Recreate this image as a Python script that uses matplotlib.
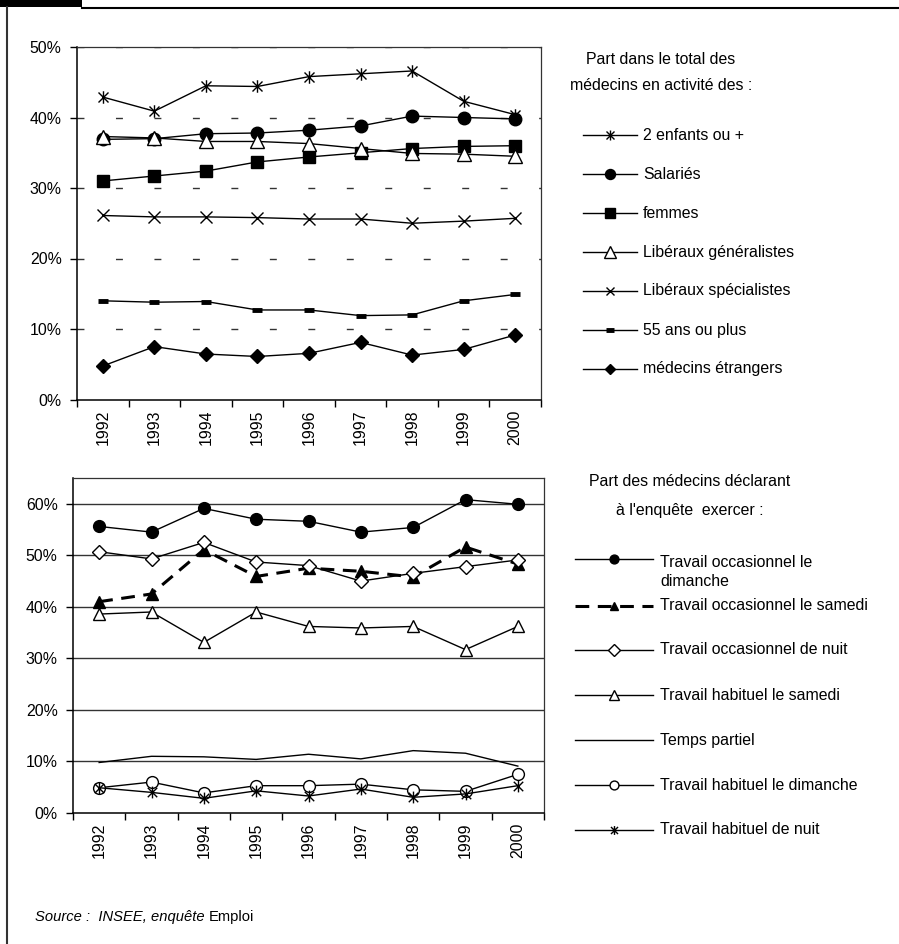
import matplotlib
matplotlib.use('Agg')
import matplotlib.pyplot as plt
import numpy as np
from matplotlib import font_manager
from matplotlib.lines import Line2D
from matplotlib.patches import Rectangle
from matplotlib.path import Path

# values (percent)
years = ['1992', '1993', '1994', '1995', '1996', '1997', '1998', '1999', '2000']

enfants_2 = [42.9, 40.9, 44.5, 44.4, 45.8, 46.2, 46.6, 42.3, 40.4]
salaries = [36.9, 37.0, 37.7, 37.8, 38.2, 38.8, 40.2, 40.0, 39.8]
femmes = [31.0, 31.7, 32.4, 33.7, 34.4, 35.0, 35.6, 35.9, 36.0]
lib_gen = [37.3, 37.1, 36.6, 36.6, 36.3, 35.6, 34.9, 34.8, 34.5]
lib_spe = [26.1, 25.9, 25.9, 25.8, 25.6, 25.6, 25.0, 25.3, 25.7]
ans_55 = [14.0, 13.8, 13.9, 12.7, 12.7, 11.9, 12.0, 14.0, 14.9]
etrangers = [4.75, 7.5, 6.45, 6.1, 6.55, 8.1, 6.3, 7.1, 9.15]

occ_dim = [55.6, 54.5, 59.1, 57.0, 56.6, 54.5, 55.4, 60.8, 59.9]
occ_sam = [41.0, 42.5, 51.1, 45.9, 47.5, 46.9, 45.8, 51.6, 48.3]
occ_nuit = [50.7, 49.3, 52.5, 48.7, 48.0, 45.0, 46.5, 47.8, 49.1]
hab_sam = [38.6, 39.0, 33.1, 39.0, 36.2, 35.9, 36.2, 31.7, 36.2]
partiel = [9.8, 11.0, 10.9, 10.4, 11.4, 10.5, 12.1, 11.6, 9.1]
hab_dim = [4.9, 6.0, 3.9, 5.3, 5.3, 5.6, 4.5, 4.2, 7.5]
hab_nuit = [4.9, 4.0, 2.85, 4.3, 3.3, 4.65, 3.05, 3.7, 5.3]

top_labels = ['2 enfants ou +', 'Salariés', 'femmes', 'Libéraux généralistes',
              'Libéraux spécialistes', '55 ans ou plus', 'médecins étrangers']
bot_labels = ['Travail occasionnel le\ndimanche', 'Travail occasionnel le samedi',
              'Travail occasionnel de nuit', 'Travail habituel le samedi',
              'Temps partiel', 'Travail habituel le dimanche', 'Travail habituel de nuit']

# narrow Arial-like font if we have it
names = {f.name for f in font_manager.fontManager.ttflist}
if 'Liberation Sans Narrow' in names:
    FONT, K = 'Liberation Sans Narrow', 1.0
else:
    FONT, K = 'Liberation Sans', 0.82
plt.rcParams['font.family'] = [FONT, 'DejaVu Sans']
FS = 14 * K

# excel style asterisk: vertical bar + X
ASTER = Path([(0, -1), (0, 1), (-0.8, -0.8), (0.8, 0.8), (-0.8, 0.8), (0.8, -0.8)],
             [Path.MOVETO, Path.LINETO] * 3)

fig = plt.figure(figsize=(8.99, 9.44), dpi=100)


def fx(px):
    return px / 899


def fy(py):
    return 1 - py / 944


ax1 = fig.add_axes([fx(77), fy(399.5), fx(541) - fx(77), fy(47) - fy(399.5)])
ax2 = fig.add_axes([fx(73), fy(813), fx(544) - fx(73), fy(478) - fy(813)])


def setup(ax, ymax, grid):
    n = len(years)
    ax.set_xlim(-0.5, n - 0.5)
    ax.set_ylim(0, ymax)
    ax.set_xticks(np.arange(n))
    ax.set_xticklabels(years, rotation=90, fontsize=FS)
    ax.set_xticks(np.arange(n + 1) - 0.5, minor=True)
    ax.tick_params(axis='x', which='major', length=0, pad=7)
    ax.tick_params(axis='x', which='minor', length=5, width=1)
    yt = np.arange(0, ymax + 0.1, 10)
    ax.set_yticks(yt)
    ax.set_yticklabels([f'{v:.0f}%' for v in yt], fontsize=FS)
    ax.tick_params(axis='y', length=5, width=1, pad=6)
    for v in yt[1:]:
        ax.axhline(v, zorder=1, **grid)
    for s in ['top', 'right']:
        ax.spines[s].set_color('#333333')
        ax.spines[s].set_linewidth(0.9)
    for s in ['left', 'bottom']:
        ax.spines[s].set_linewidth(1.1)


setup(ax1, 50, dict(color='#333333', lw=1, ls=(0, (5, 22.7))))
setup(ax2, 65, dict(color='#333333', lw=1, ls='-'))

x = np.arange(len(years))

top_series = [enfants_2, salaries, femmes, lib_gen, lib_spe, ans_55, etrangers]
top_styles = [
    dict(marker=ASTER, ms=9, mfc='black', mew=1),
    dict(marker='o', ms=9, mfc='black'),
    dict(marker='s', ms=8.5, mfc='black'),
    dict(marker='^', ms=10, mfc='white', mew=1),
    dict(marker='x', ms=8, mew=1),
    dict(marker='_', ms=7, mew=3.5),
    dict(marker='D', ms=7, mfc='black'),
]
for vals, st in zip(top_series, top_styles):
    ax1.plot(x, vals, color='black', lw=1, mec='black', zorder=3, **st)

bot_series = [occ_dim, occ_sam, occ_nuit, hab_sam, partiel, hab_dim, hab_nuit]
bot_styles = [
    dict(marker='o', ms=8.5, mfc='black'),
    dict(marker='^', ms=8.5, mfc='black', lw=2.2, dashes=(4.5, 2.8)),
    dict(marker='D', ms=7.5, mfc='white', mew=1),
    dict(marker='^', ms=9, mfc='white', mew=1),
    dict(),
    dict(marker='o', ms=8.5, mfc='white', mew=1),
    dict(marker=ASTER, ms=8.5, mfc='black', mew=1),
]
for vals, st in zip(bot_series, bot_styles):
    kw = dict(color='black', lw=1, mec='black', zorder=3)
    kw.update(st)
    ax2.plot(x, vals, **kw)


# hand-placed legends, excel style
def legend_entry(x0, x1, y, tx, text, st, scale, ty=None):
    lw = st.get('lw', 1)
    line_kw = dict(color='black', lw=lw)
    if 'dashes' in st:
        line_kw['dashes'] = st['dashes']
    fig.add_artist(Line2D([fx(x0), fx(x1)], [fy(y), fy(y)], transform=fig.transFigure, **line_kw))
    if 'marker' in st:
        fig.add_artist(Line2D([fx((x0 + x1) / 2)], [fy(y)], transform=fig.transFigure, ls='none',
                              marker=st['marker'], ms=st['ms'] * scale, mfc=st.get('mfc', 'black'),
                              mec='black', mew=st.get('mew', 1)))
    fig.text(fx(tx), fy(y if ty is None else ty), text, fontsize=FS, va='center', ha='left',
             linespacing=1.3)


fig.text(fx(661), fy(60), 'Part dans le total des', fontsize=FS, ha='center', va='center')
fig.text(fx(661), fy(86), 'médecins en activité des :', fontsize=FS, ha='center', va='center')
top_y = [135, 174, 213, 252, 291, 330, 369]
for lab, st, y in zip(top_labels, top_styles, top_y):
    legend_entry(583, 637, y, 643, lab, st, 0.8)

fig.text(fx(690), fy(482), 'Part des médecins déclarant', fontsize=FS, ha='center', va='center')
fig.text(fx(690), fy(510), "à l'enquête  exercer :", fontsize=FS, ha='center', va='center')
bot_y = [559, 606, 650, 695, 740, 785, 830]
for i, (lab, st, y) in enumerate(zip(bot_labels, bot_styles, bot_y)):
    legend_entry(575, 653, y, 660, lab, st, 0.75, ty=572 if i == 0 else None)

# outer frame of the page
fig.add_artist(Rectangle((0, fy(7)), fx(82), 7 / 944, transform=fig.transFigure,
                         color='black', lw=0))
fig.add_artist(Line2D([fx(82), 1], [fy(7.5), fy(7.5)], transform=fig.transFigure,
                      color='black', lw=1.5))
fig.add_artist(Line2D([fx(7), fx(7)], [fy(7), 0], transform=fig.transFigure,
                      color='#333333', lw=1.5))

# source line: italic part then regular
t1 = fig.text(fx(35), fy(917), 'Source :  INSEE, enquête', fontsize=13 * K,
              style='italic', va='center')
r = fig.canvas.get_renderer()
bb = t1.get_window_extent(r)
fig.text(fx(bb.x1 + 4), fy(917), 'Emploi', fontsize=13 * K, va='center')

fig.savefig('out.png', dpi=100)
